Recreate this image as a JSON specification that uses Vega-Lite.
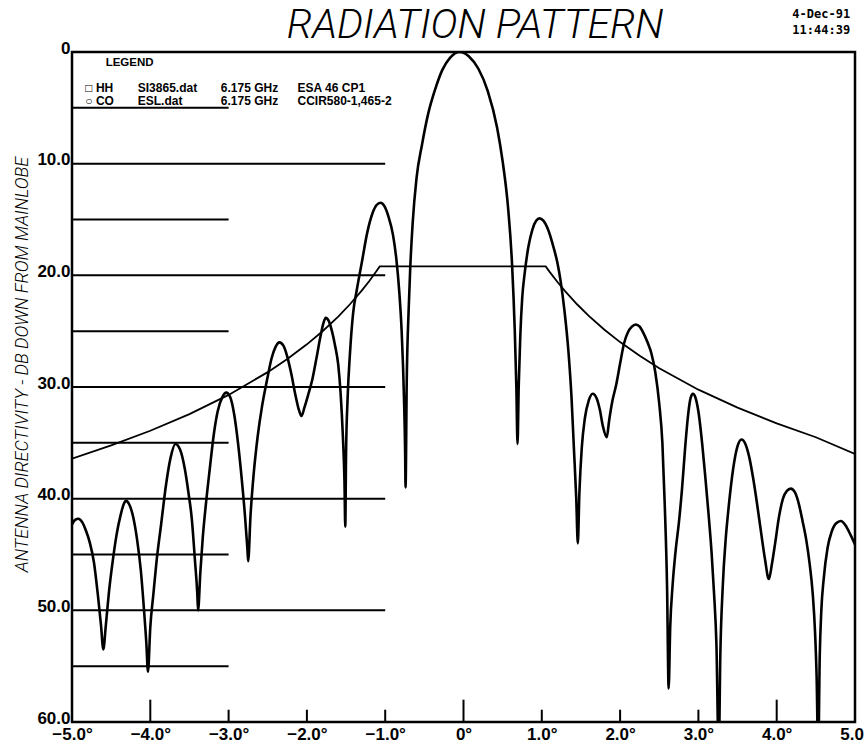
{
  "$schema": "https://vega.github.io/schema/vega-lite/v6.json",
  "width": 783,
  "height": 670,
  "autosize": "none",
  "padding": {"left": 72, "top": 52, "right": 9, "bottom": 20},
  "background": "white",
  "config": {
    "view": {"stroke": "black", "strokeWidth": 2.5},
    "font": "Liberation Sans"
  },
  "datasets": {
    "pattern": [
      {"deg": -5.0, "db": 42.3}, {"deg": -4.96, "db": 41.9}, {"deg": -4.92, "db": 41.8}, {"deg": -4.87, "db": 42.1},
      {"deg": -4.82, "db": 42.9}, {"deg": -4.77, "db": 44.0}, {"deg": -4.72, "db": 45.7}, {"deg": -4.67, "db": 48.6},
      {"deg": -4.63, "db": 51.3}, {"deg": -4.6, "db": 53.5},
      {"deg": -4.57, "db": 51.5}, {"deg": -4.53, "db": 48.5}, {"deg": -4.48, "db": 45.6}, {"deg": -4.43, "db": 43.2},
      {"deg": -4.38, "db": 41.5}, {"deg": -4.34, "db": 40.5}, {"deg": -4.31, "db": 40.2}, {"deg": -4.27, "db": 40.5},
      {"deg": -4.22, "db": 41.6}, {"deg": -4.17, "db": 43.6}, {"deg": -4.12, "db": 46.5}, {"deg": -4.08, "db": 50.0},
      {"deg": -4.05, "db": 53.0}, {"deg": -4.03, "db": 55.5},
      {"deg": -4.0, "db": 51.5}, {"deg": -3.96, "db": 48.5}, {"deg": -3.92, "db": 45.6}, {"deg": -3.86, "db": 42.2},
      {"deg": -3.8, "db": 38.8}, {"deg": -3.74, "db": 36.3}, {"deg": -3.68, "db": 35.1}, {"deg": -3.62, "db": 35.6},
      {"deg": -3.56, "db": 37.3}, {"deg": -3.51, "db": 39.6}, {"deg": -3.47, "db": 41.8}, {"deg": -3.43, "db": 45.5},
      {"deg": -3.4, "db": 48.5}, {"deg": -3.39, "db": 50.0},
      {"deg": -3.36, "db": 46.5}, {"deg": -3.33, "db": 43.5}, {"deg": -3.29, "db": 40.5}, {"deg": -3.24, "db": 37.3},
      {"deg": -3.19, "db": 34.3}, {"deg": -3.14, "db": 32.2}, {"deg": -3.08, "db": 30.9}, {"deg": -3.03, "db": 30.5},
      {"deg": -2.98, "db": 30.9}, {"deg": -2.93, "db": 32.4}, {"deg": -2.88, "db": 35.0}, {"deg": -2.83, "db": 38.4},
      {"deg": -2.79, "db": 41.6}, {"deg": -2.76, "db": 44.5}, {"deg": -2.75, "db": 45.6},
      {"deg": -2.72, "db": 41.5}, {"deg": -2.68, "db": 37.8}, {"deg": -2.63, "db": 34.5}, {"deg": -2.57, "db": 31.6},
      {"deg": -2.51, "db": 29.4}, {"deg": -2.45, "db": 27.4}, {"deg": -2.4, "db": 26.4}, {"deg": -2.35, "db": 26.0},
      {"deg": -2.3, "db": 26.3}, {"deg": -2.25, "db": 27.3}, {"deg": -2.2, "db": 28.8}, {"deg": -2.15, "db": 30.6},
      {"deg": -2.1, "db": 32.1}, {"deg": -2.07, "db": 32.6},
      {"deg": -2.03, "db": 31.8}, {"deg": -1.98, "db": 30.6}, {"deg": -1.93, "db": 29.3}, {"deg": -1.88, "db": 27.5},
      {"deg": -1.83, "db": 25.6}, {"deg": -1.79, "db": 24.3}, {"deg": -1.76, "db": 23.8}, {"deg": -1.72, "db": 24.1},
      {"deg": -1.68, "db": 25.0}, {"deg": -1.64, "db": 26.3}, {"deg": -1.6, "db": 28.0}, {"deg": -1.57, "db": 30.5},
      {"deg": -1.54, "db": 34.5}, {"deg": -1.52, "db": 38.5}, {"deg": -1.51, "db": 42.5},
      {"deg": -1.5, "db": 36.0}, {"deg": -1.48, "db": 31.0}, {"deg": -1.45, "db": 27.0}, {"deg": -1.41, "db": 23.4},
      {"deg": -1.36, "db": 21.2}, {"deg": -1.3, "db": 18.9}, {"deg": -1.23, "db": 16.2}, {"deg": -1.16, "db": 14.4},
      {"deg": -1.11, "db": 13.7}, {"deg": -1.06, "db": 13.5}, {"deg": -1.01, "db": 13.8}, {"deg": -0.96, "db": 14.7},
      {"deg": -0.9, "db": 16.4}, {"deg": -0.86, "db": 18.4}, {"deg": -0.82, "db": 21.5}, {"deg": -0.79, "db": 25.0},
      {"deg": -0.76, "db": 31.0}, {"deg": -0.745, "db": 36.0}, {"deg": -0.74, "db": 39.0},
      {"deg": -0.725, "db": 29.5}, {"deg": -0.7, "db": 23.0}, {"deg": -0.68, "db": 19.3}, {"deg": -0.65, "db": 15.4},
      {"deg": -0.6, "db": 11.3}, {"deg": -0.53, "db": 8.3}, {"deg": -0.45, "db": 5.5}, {"deg": -0.36, "db": 3.3},
      {"deg": -0.27, "db": 1.6}, {"deg": -0.17, "db": 0.5}, {"deg": -0.05, "db": 0.0}, {"deg": 0.07, "db": 0.4},
      {"deg": 0.19, "db": 1.5}, {"deg": 0.31, "db": 3.5}, {"deg": 0.43, "db": 6.8}, {"deg": 0.5, "db": 9.8},
      {"deg": 0.57, "db": 14.0}, {"deg": 0.62, "db": 19.0}, {"deg": 0.655, "db": 25.0}, {"deg": 0.675, "db": 30.0},
      {"deg": 0.69, "db": 35.1},
      {"deg": 0.705, "db": 30.0}, {"deg": 0.725, "db": 25.5}, {"deg": 0.75, "db": 22.0}, {"deg": 0.78, "db": 19.9},
      {"deg": 0.83, "db": 17.4}, {"deg": 0.88, "db": 15.9}, {"deg": 0.93, "db": 15.1}, {"deg": 0.97, "db": 14.9},
      {"deg": 1.02, "db": 15.1}, {"deg": 1.08, "db": 15.9}, {"deg": 1.15, "db": 17.5}, {"deg": 1.2, "db": 18.9},
      {"deg": 1.24, "db": 20.5}, {"deg": 1.29, "db": 23.2}, {"deg": 1.34, "db": 26.8}, {"deg": 1.38, "db": 31.0},
      {"deg": 1.41, "db": 35.5}, {"deg": 1.44, "db": 40.0}, {"deg": 1.46, "db": 44.0},
      {"deg": 1.48, "db": 39.5}, {"deg": 1.51, "db": 35.5}, {"deg": 1.55, "db": 32.8}, {"deg": 1.6, "db": 31.2},
      {"deg": 1.65, "db": 30.6}, {"deg": 1.7, "db": 31.0}, {"deg": 1.74, "db": 32.0}, {"deg": 1.78, "db": 33.5},
      {"deg": 1.83, "db": 34.5},
      {"deg": 1.86, "db": 33.0}, {"deg": 1.9, "db": 31.3}, {"deg": 1.95, "db": 29.8}, {"deg": 2.0, "db": 27.9},
      {"deg": 2.05, "db": 26.1}, {"deg": 2.1, "db": 25.1}, {"deg": 2.15, "db": 24.6}, {"deg": 2.2, "db": 24.4},
      {"deg": 2.25, "db": 24.6}, {"deg": 2.3, "db": 25.2}, {"deg": 2.35, "db": 26.0}, {"deg": 2.4, "db": 27.0},
      {"deg": 2.45, "db": 28.7}, {"deg": 2.5, "db": 31.5}, {"deg": 2.54, "db": 35.0}, {"deg": 2.57, "db": 40.5},
      {"deg": 2.6, "db": 48.0}, {"deg": 2.62, "db": 57.0},
      {"deg": 2.64, "db": 51.5}, {"deg": 2.67, "db": 47.8}, {"deg": 2.71, "db": 44.6}, {"deg": 2.75, "db": 42.2},
      {"deg": 2.79, "db": 39.2}, {"deg": 2.83, "db": 35.5}, {"deg": 2.87, "db": 32.4}, {"deg": 2.9, "db": 31.0},
      {"deg": 2.93, "db": 30.6}, {"deg": 2.96, "db": 30.9}, {"deg": 3.0, "db": 32.2}, {"deg": 3.05, "db": 35.2},
      {"deg": 3.09, "db": 38.2}, {"deg": 3.13, "db": 41.4}, {"deg": 3.17, "db": 45.0}, {"deg": 3.2, "db": 48.5},
      {"deg": 3.23, "db": 53.0}, {"deg": 3.26, "db": 63.0},
      {"deg": 3.28, "db": 54.0}, {"deg": 3.31, "db": 48.0}, {"deg": 3.35, "db": 43.5}, {"deg": 3.38, "db": 41.2},
      {"deg": 3.42, "db": 38.6}, {"deg": 3.46, "db": 36.6}, {"deg": 3.5, "db": 35.3}, {"deg": 3.55, "db": 34.7},
      {"deg": 3.6, "db": 35.1}, {"deg": 3.65, "db": 36.3}, {"deg": 3.7, "db": 38.2}, {"deg": 3.75, "db": 40.5},
      {"deg": 3.8, "db": 43.0}, {"deg": 3.85, "db": 45.4}, {"deg": 3.9, "db": 47.2},
      {"deg": 3.94, "db": 45.8}, {"deg": 3.98, "db": 44.0}, {"deg": 4.03, "db": 41.6}, {"deg": 4.08, "db": 40.0},
      {"deg": 4.13, "db": 39.3}, {"deg": 4.18, "db": 39.1}, {"deg": 4.23, "db": 39.4}, {"deg": 4.28, "db": 40.4},
      {"deg": 4.33, "db": 42.0}, {"deg": 4.38, "db": 43.8}, {"deg": 4.42, "db": 45.8}, {"deg": 4.46, "db": 48.5},
      {"deg": 4.49, "db": 52.0}, {"deg": 4.51, "db": 56.0}, {"deg": 4.53, "db": 63.0},
      {"deg": 4.55, "db": 54.0}, {"deg": 4.57, "db": 50.0}, {"deg": 4.6, "db": 47.2}, {"deg": 4.65, "db": 44.4},
      {"deg": 4.7, "db": 43.0}, {"deg": 4.76, "db": 42.2}, {"deg": 4.82, "db": 42.0}, {"deg": 4.88, "db": 42.4},
      {"deg": 4.94, "db": 43.2}, {"deg": 5.0, "db": 44.1}
    ],
    "envelope": [
      {"deg": -5.0, "db": 36.41}, {"deg": -4.5, "db": 35.23}, {"deg": -4.0, "db": 33.92}, {"deg": -3.5, "db": 32.43},
      {"deg": -3.0, "db": 30.71}, {"deg": -2.5, "db": 28.67}, {"deg": -2.25, "db": 27.5}, {"deg": -2.0, "db": 26.18},
      {"deg": -1.8, "db": 25.01}, {"deg": -1.6, "db": 23.69}, {"deg": -1.45, "db": 22.59}, {"deg": -1.3, "db": 21.37},
      {"deg": -1.2, "db": 20.48}, {"deg": -1.12, "db": 19.71}, {"deg": -1.07, "db": 19.2}, {"deg": 1.05, "db": 19.2},
      {"deg": 1.1, "db": 19.69}, {"deg": 1.2, "db": 20.6}, {"deg": 1.3, "db": 21.44}, {"deg": 1.45, "db": 22.59},
      {"deg": 1.6, "db": 23.63}, {"deg": 1.8, "db": 24.87}, {"deg": 2.0, "db": 25.98}, {"deg": 2.25, "db": 27.21},
      {"deg": 2.5, "db": 28.32}, {"deg": 3.0, "db": 30.24}, {"deg": 3.5, "db": 31.85}, {"deg": 4.0, "db": 33.26},
      {"deg": 4.5, "db": 34.5}, {"deg": 5.0, "db": 35.99}
    ],
    "minorGrid": [{"db": 5}, {"db": 15}, {"db": 25}, {"db": 35}, {"db": 45}, {"db": 55}],
    "majorGrid": [{"db": 10}, {"db": 20}, {"db": 30}, {"db": 40}, {"db": 50}],
    "tallTicks": [{"deg": -4}, {"deg": 0}, {"deg": 4}],
    "shortTicks": [{"deg": -3}, {"deg": -2}, {"deg": -1}, {"deg": 1}, {"deg": 2}, {"deg": 3}],
    "one": [{}]
  },
  "layer": [
    {
      "data": {"name": "pattern"},
      "mark": {"type": "line", "color": "black", "strokeWidth": 2.6, "interpolate": "monotone", "clip": true},
      "encoding": {
        "x": {
          "field": "deg", "type": "quantitative",
          "scale": {"domain": [-5, 5], "nice": false, "zero": false},
          "axis": {
            "values": [-5, -4, -3, -2, -1, 0, 1, 2, 3, 4, 5],
            "labelExpr": "datum.value == 0 ? '0°' : format(datum.value, '.1f') + '°'",
            "labelFont": "Liberation Sans", "labelFontSize": 17, "labelFontWeight": "bold", "labelColor": "black",
            "labelPadding": 4, "ticks": false, "grid": false, "domain": false, "title": null,
            "labelFlush": false, "labelOverlap": false
          }
        },
        "y": {
          "field": "db", "type": "quantitative",
          "scale": {"domain": [0, 60], "reverse": true, "nice": false, "zero": false},
          "axis": {
            "values": [0, 10, 20, 30, 40, 50, 60],
            "labelExpr": "datum.value == 0 ? '0' : format(datum.value, '.1f')",
            "labelFont": "Liberation Sans", "labelFontSize": 17, "labelFontWeight": "bold", "labelColor": "black",
            "labelPadding": 2, "labelOffset": -4, "ticks": false, "grid": false, "domain": false,
            "labelFlush": false, "labelOverlap": false,
            "title": "ANTENNA DIRECTIVITY - DB DOWN FROM MAINLOBE",
            "titleFont": "Roboto", "titleFontSize": 18, "titleFontStyle": "italic", "titleFontWeight": 300,
            "titleColor": "black", "titlePadding": 5, "titleY": 312
          }
        }
      }
    },
    {
      "data": {"name": "envelope"},
      "mark": {"type": "line", "color": "black", "strokeWidth": 1.8, "clip": true},
      "encoding": {
        "x": {"field": "deg", "type": "quantitative"},
        "y": {"field": "db", "type": "quantitative"}
      }
    },
    {
      "data": {"name": "minorGrid"},
      "mark": {"type": "rule", "color": "black", "strokeWidth": 2},
      "encoding": {
        "x": {"datum": -5},
        "x2": {"datum": -3},
        "y": {"field": "db", "type": "quantitative"}
      }
    },
    {
      "data": {"name": "majorGrid"},
      "mark": {"type": "rule", "color": "black", "strokeWidth": 2},
      "encoding": {
        "x": {"datum": -5},
        "x2": {"datum": -1},
        "y": {"field": "db", "type": "quantitative"}
      }
    },
    {
      "data": {"name": "tallTicks"},
      "mark": {"type": "rule", "color": "black", "strokeWidth": 2},
      "encoding": {
        "x": {"field": "deg", "type": "quantitative"},
        "y": {"datum": 60},
        "y2": {"datum": 58}
      }
    },
    {
      "data": {"name": "shortTicks"},
      "mark": {"type": "rule", "color": "black", "strokeWidth": 2},
      "encoding": {
        "x": {"field": "deg", "type": "quantitative"},
        "y": {"datum": 60},
        "y2": {"datum": 58.9}
      }
    },
    {
      "data": {"name": "one"},
      "mark": {"type": "text", "align": "center", "baseline": "alphabetic", "font": "Roboto", "fontStyle": "italic", "fontWeight": 300, "fontSize": 41, "color": "black"},
      "encoding": {"x": {"datum": 0.15}, "y": {"datum": -1.25}, "text": {"value": "RADIATION PATTERN"}}
    },
    {
      "data": {"name": "one"},
      "mark": {"type": "text", "align": "left", "baseline": "middle", "font": "DejaVu Sans Mono", "fontWeight": "bold", "fontSize": 12, "color": "black"},
      "encoding": {"x": {"datum": 4.2}, "y": {"datum": -3.4}, "text": {"value": "4-Dec-91"}}
    },
    {
      "data": {"name": "one"},
      "mark": {"type": "text", "align": "left", "baseline": "middle", "font": "DejaVu Sans Mono", "fontWeight": "bold", "fontSize": 12, "color": "black"},
      "encoding": {"x": {"datum": 4.2}, "y": {"datum": -2.0}, "text": {"value": "11:44:39"}}
    },
    {
      "data": {"name": "one"},
      "mark": {"type": "text", "align": "left", "baseline": "middle", "fontWeight": "bold", "fontSize": 11.5, "color": "black"},
      "encoding": {"x": {"datum": -4.57}, "y": {"datum": 1.0}, "text": {"value": "LEGEND"}}
    },
    {
      "data": {"name": "one"},
      "mark": {"type": "text", "align": "left", "baseline": "middle", "fontWeight": "bold", "fontSize": 12, "color": "black"},
      "encoding": {"x": {"datum": -4.83}, "y": {"datum": 3.2}, "text": {"value": "□ HH"}}
    },
    {
      "data": {"name": "one"},
      "mark": {"type": "text", "align": "left", "baseline": "middle", "fontWeight": "bold", "fontSize": 12, "color": "black"},
      "encoding": {"x": {"datum": -4.16}, "y": {"datum": 3.2}, "text": {"value": "SI3865.dat"}}
    },
    {
      "data": {"name": "one"},
      "mark": {"type": "text", "align": "left", "baseline": "middle", "fontWeight": "bold", "fontSize": 12, "color": "black"},
      "encoding": {"x": {"datum": -3.1}, "y": {"datum": 3.2}, "text": {"value": "6.175 GHz"}}
    },
    {
      "data": {"name": "one"},
      "mark": {"type": "text", "align": "left", "baseline": "middle", "fontWeight": "bold", "fontSize": 12, "color": "black"},
      "encoding": {"x": {"datum": -2.12}, "y": {"datum": 3.2}, "text": {"value": "ESA 46 CP1"}}
    },
    {
      "data": {"name": "one"},
      "mark": {"type": "text", "align": "left", "baseline": "middle", "fontWeight": "bold", "fontSize": 12, "color": "black"},
      "encoding": {"x": {"datum": -4.83}, "y": {"datum": 4.35}, "text": {"value": "○ CO"}}
    },
    {
      "data": {"name": "one"},
      "mark": {"type": "text", "align": "left", "baseline": "middle", "fontWeight": "bold", "fontSize": 12, "color": "black"},
      "encoding": {"x": {"datum": -4.16}, "y": {"datum": 4.35}, "text": {"value": "ESL.dat"}}
    },
    {
      "data": {"name": "one"},
      "mark": {"type": "text", "align": "left", "baseline": "middle", "fontWeight": "bold", "fontSize": 12, "color": "black"},
      "encoding": {"x": {"datum": -3.1}, "y": {"datum": 4.35}, "text": {"value": "6.175 GHz"}}
    },
    {
      "data": {"name": "one"},
      "mark": {"type": "text", "align": "left", "baseline": "middle", "fontWeight": "bold", "fontSize": 12, "color": "black"},
      "encoding": {"x": {"datum": -2.12}, "y": {"datum": 4.35}, "text": {"value": "CCIR580-1,465-2"}}
    }
  ]
}
